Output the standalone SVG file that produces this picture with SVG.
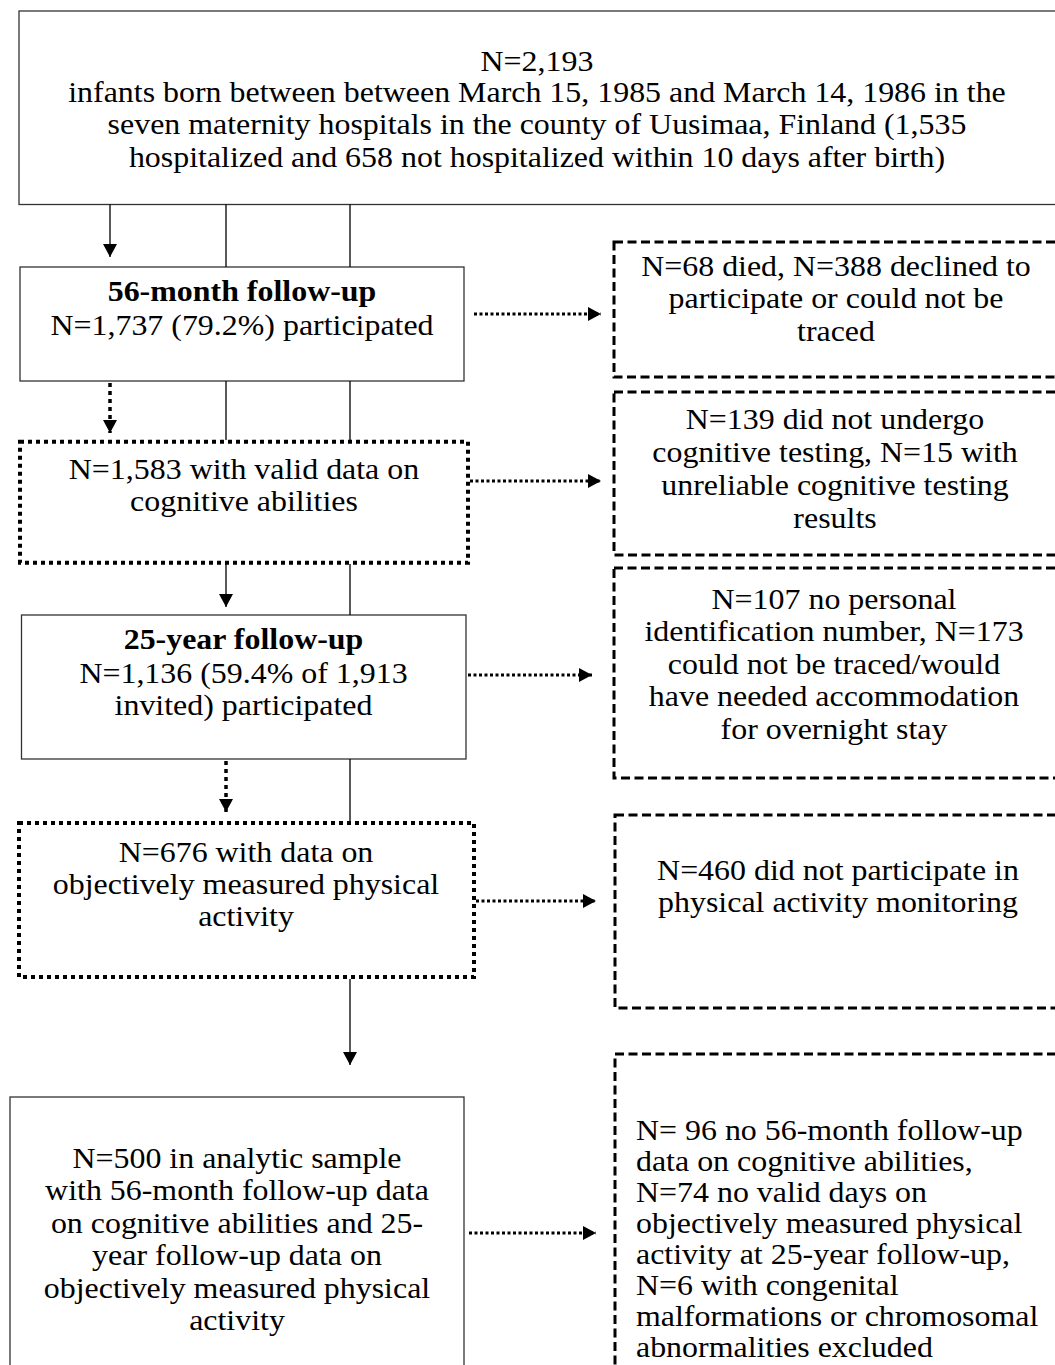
<svg xmlns="http://www.w3.org/2000/svg" width="1055" height="1365" viewBox="0 0 1055 1365">
<defs>
<style>
.solid{fill:#fff;stroke:#333;stroke-width:1.3}
.dot{fill:#fff;stroke:#000;stroke-width:4;stroke-dasharray:4 4}
.dash{fill:#fff;stroke:#000;stroke-width:3;stroke-dasharray:9 4.5}
.ln{fill:none;stroke:#000;stroke-width:1.3}
.dl{fill:none;stroke:#000;stroke-width:3;stroke-dasharray:3 2.5}
.dv{fill:none;stroke:#000;stroke-width:3.5;stroke-dasharray:4 4}
text{font-family:"Liberation Serif","Times New Roman",serif;font-size:28.5px;fill:#000}
.c{text-anchor:middle}
.b{font-weight:bold}
</style>
<marker id="ah" viewBox="0 0 13 14" refX="13" refY="7" markerWidth="13" markerHeight="14" markerUnits="userSpaceOnUse" orient="auto"><path d="M0,0 L13,7 L0,14 Z" fill="#000"/></marker>
</defs>

<g id="n-top">
<rect class="solid" x="19" y="11" width="1060" height="193.5"/>
<text class="c" transform="translate(537 0) scale(1.12 1)"><tspan x="0" y="71">N=2,193</tspan><tspan x="0" y="102">infants born between between March 15, 1985 and March 14, 1986 in the</tspan><tspan x="0" y="134.5">seven maternity hospitals in the county of Uusimaa, Finland (1,535</tspan><tspan x="0" y="167">hospitalized and 658 not hospitalized within 10 days after birth)</tspan></text>
</g>

<g id="n-56">
<rect class="solid" x="20" y="267" width="444" height="114"/>
<text class="c" transform="translate(242 0) scale(1.12 1)"><tspan class="b" x="0" y="301">56-month follow-up</tspan><tspan x="0" y="335">N=1,737 (79.2%) participated</tspan></text>
</g>

<g id="n-ex1">
<rect class="dash" x="614" y="242" width="470" height="135"/>
<text class="c" transform="translate(836 0) scale(1.12 1)"><tspan x="0" y="276">N=68 died, N=388 declined to</tspan><tspan x="0" y="308.5">participate or could not be</tspan><tspan x="0" y="341">traced</tspan></text>
</g>

<g id="n-cog">
<rect class="dot" x="20" y="441.7" width="448" height="121"/>
<text class="c" transform="translate(244 0) scale(1.12 1)"><tspan x="0" y="479">N=1,583 with valid data on</tspan><tspan x="0" y="511">cognitive abilities</tspan></text>
</g>

<g id="n-ex2">
<rect class="dash" x="614" y="392" width="470" height="163"/>
<text class="c" transform="translate(835 0) scale(1.12 1)"><tspan x="0" y="429">N=139 did not undergo</tspan><tspan x="0" y="462">cognitive testing, N=15 with</tspan><tspan x="0" y="495">unreliable cognitive testing</tspan><tspan x="0" y="528">results</tspan></text>
</g>

<g id="n-25">
<rect class="solid" x="21.5" y="615" width="444.5" height="144"/>
<text class="c" transform="translate(243.5 0) scale(1.12 1)"><tspan class="b" x="0" y="649">25-year follow-up</tspan><tspan x="0" y="683">N=1,136 (59.4% of 1,913</tspan><tspan x="0" y="715.5">invited) participated</tspan></text>
</g>

<g id="n-ex3">
<rect class="dash" x="614" y="568" width="470" height="210"/>
<text class="c" transform="translate(834 0) scale(1.12 1)"><tspan x="0" y="609">N=107 no personal</tspan><tspan x="0" y="641.5">identification number, N=173</tspan><tspan x="0" y="674">could not be traced/would</tspan><tspan x="0" y="706.5">have needed accommodation</tspan><tspan x="0" y="739">for overnight stay</tspan></text>
</g>

<g id="n-pa">
<rect class="dot" x="19" y="823" width="455" height="154"/>
<text class="c" transform="translate(246 0) scale(1.12 1)"><tspan x="0" y="862">N=676 with data on</tspan><tspan x="0" y="894">objectively measured physical</tspan><tspan x="0" y="926">activity</tspan></text>
</g>

<g id="n-ex4">
<rect class="dash" x="615" y="815" width="470" height="193"/>
<text class="c" transform="translate(838 0) scale(1.12 1)"><tspan x="0" y="880">N=460 did not participate in</tspan><tspan x="0" y="912">physical activity monitoring</tspan></text>
</g>

<g id="n-final">
<rect class="solid" x="10" y="1097" width="454" height="300"/>
<text class="c" transform="translate(237 0) scale(1.12 1)"><tspan x="0" y="1168">N=500 in analytic sample</tspan><tspan x="0" y="1200.5">with 56-month follow-up data</tspan><tspan x="0" y="1233">on cognitive abilities and 25-</tspan><tspan x="0" y="1265.5">year follow-up data on</tspan><tspan x="0" y="1298">objectively measured physical</tspan><tspan x="0" y="1330.5">activity</tspan></text>
</g>

<g id="n-ex5">
<rect class="dash" x="615" y="1054" width="470" height="340"/>
<text transform="translate(636 0) scale(1.12 1)"><tspan x="0" y="1140">N= 96 no 56-month follow-up</tspan><tspan x="0" y="1171">data on cognitive abilities,</tspan><tspan x="0" y="1202">N=74 no valid days on</tspan><tspan x="0" y="1233">objectively measured physical</tspan><tspan x="0" y="1264">activity at 25-year follow-up,</tspan><tspan x="0" y="1295">N=6 with congenital</tspan><tspan x="0" y="1326">malformations or chromosomal</tspan><tspan x="0" y="1357">abnormalities excluded</tspan></text>
</g>

<g id="connectors">
<line class="ln" x1="110" y1="204.5" x2="110" y2="257" marker-end="url(#ah)"/>
<line class="ln" x1="226" y1="204.5" x2="226" y2="267"/>
<line class="ln" x1="350" y1="204.5" x2="350" y2="267"/>
<line class="dv" x1="110" y1="383" x2="110" y2="433" marker-end="url(#ah)"/>
<line class="ln" x1="226" y1="381" x2="226" y2="440"/>
<line class="ln" x1="350" y1="381" x2="350" y2="440"/>
<line class="ln" x1="226" y1="564" x2="226" y2="607" marker-end="url(#ah)"/>
<line class="ln" x1="350" y1="564" x2="350" y2="615"/>
<line class="dv" x1="226" y1="761" x2="226" y2="812" marker-end="url(#ah)"/>
<line class="ln" x1="350" y1="759" x2="350" y2="821"/>
<line class="ln" x1="350" y1="979" x2="350" y2="1065" marker-end="url(#ah)"/>
<line class="dl" x1="474" y1="314" x2="601" y2="314" marker-end="url(#ah)"/>
<line class="dl" x1="470" y1="481" x2="601" y2="481" marker-end="url(#ah)"/>
<line class="dl" x1="468" y1="675" x2="592" y2="675" marker-end="url(#ah)"/>
<line class="dl" x1="476" y1="901" x2="596" y2="901" marker-end="url(#ah)"/>
<line class="dl" x1="469" y1="1233" x2="596" y2="1233" marker-end="url(#ah)"/>
</g>
</svg>
